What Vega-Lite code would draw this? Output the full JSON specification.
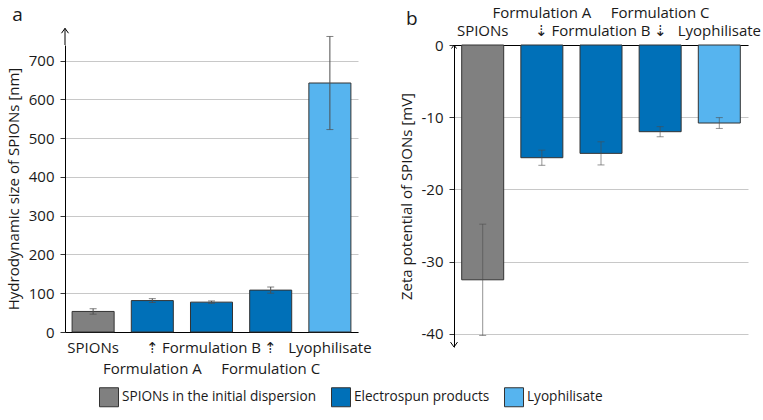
{
  "$schema": "https://vega.github.io/schema/vega-lite/v6.json",
  "background": "white",
  "padding": {"left": 6, "top": 5, "right": 5, "bottom": 5},
  "spacing": 27,
  "datasets": {
    "size": [
      {"cat": "SPIONs", "group": "SPIONs in the initial dispersion", "value": 53, "err": 7},
      {"cat": "Formulation A", "group": "Electrospun products", "value": 81, "err": 5},
      {"cat": "Formulation B", "group": "Electrospun products", "value": 77, "err": 3},
      {"cat": "Formulation C", "group": "Electrospun products", "value": 108, "err": 8},
      {"cat": "Lyophilisate", "group": "Lyophilisate", "value": 642, "err": 120}
    ],
    "zeta": [
      {"cat": "SPIONs", "group": "SPIONs in the initial dispersion", "value": -32.5, "err": 7.7},
      {"cat": "Formulation A", "group": "Electrospun products", "value": -15.6, "err": 1.05},
      {"cat": "Formulation B", "group": "Electrospun products", "value": -15.0, "err": 1.6},
      {"cat": "Formulation C", "group": "Electrospun products", "value": -12.0, "err": 0.7},
      {"cat": "Lyophilisate", "group": "Lyophilisate", "value": -10.8, "err": 0.75}
    ],
    "axisend": [{"axis": "y"}]
  },
  "hconcat": [
    {
      "width": 293,
      "height": 287,
      "title": {"text": "a", "anchor": "start", "frame": "bounds", "fontSize": 19, "fontWeight": "normal", "dx": 6, "offset": 1},
      "layer": [
        {
          "data": {"name": "size"},
          "mark": {"type": "bar", "stroke": "#333333", "strokeWidth": 1},
          "encoding": {
            "x": {"field": "cat", "type": "nominal", "sort": null,
              "scale": {"paddingInner": 0.29, "paddingOuter": 0.12},
              "axis": {"title": null, "ticks": false, "labelAngle": 0, "labelPadding": 8, "labelLineHeight": 21,
                "labelOverlap": false, "labelBaseline": "top", "labelBound": false,
                "labelExpr": "datum.value == 'Formulation A' || datum.value == 'Formulation C' ? ['⇡', datum.value] : datum.value"}},
            "y": {"field": "value", "type": "quantitative",
              "scale": {"domain": [0, 740], "nice": false, "zero": false},
              "axis": {"title": "Hydrodynamic size of SPIONs [nm]", "titlePadding": 7,
                "values": [0, 50, 100, 150, 200, 250, 300, 350, 400, 450, 500, 550, 600, 650, 700, 750],
                "labelExpr": "datum.value % 100 == 0 ? datum.label : ''",
                "grid": true,
                "gridColor": {"condition": {"test": "datum.value % 100 == 0", "value": "#c8c8c8"}, "value": "#ececec"},
                "tickSize": {"condition": {"test": "datum.value % 100 == 0", "value": 5}, "value": 3},
                "labelPadding": 6}},
            "color": {"field": "group", "type": "nominal",
              "scale": {"domain": ["SPIONs in the initial dispersion", "Electrospun products", "Lyophilisate"],
                "range": ["#808080", "#0070b8", "#56b4ef"]},
              "legend": {"orient": "none", "legendX": 34, "legendY": 342, "direction": "horizontal", "title": null, "symbolType": "square",
                "symbolSize": 361, "symbolStrokeColor": "#333333", "symbolStrokeWidth": 1, "symbolOpacity": 1,
                "labelFontSize": 13.6, "labelFont": "Open Sans", "labelColor": "#1a1a1a", "labelLimit": 400, "columnPadding": 12, "labelOffset": 3}}
          }
        },
        {
          "data": {"name": "size"},
          "mark": {"type": "errorbar", "color": "#4d4d4d", "ticks": {"size": 7}},
          "encoding": {
            "x": {"field": "cat", "type": "nominal", "sort": null},
            "y": {"field": "value", "type": "quantitative", "title": "Hydrodynamic size of SPIONs [nm]"},
            "yError": {"field": "err"}
          }
        },
        {
          "data": {"name": "axisend"},
          "mark": {"type": "rule", "color": "#000000", "strokeWidth": 1},
          "encoding": {"x": {"value": 0}, "y": {"datum": 740}, "y2": {"datum": 783}}
        },
        {
          "data": {"name": "axisend"},
          "mark": {"type": "point", "shape": "M -1 1.4 L 0 0 L 1 1.4", "filled": false, "stroke": "#000000", "strokeWidth": 1, "size": 49, "opacity": 1},
          "encoding": {"x": {"value": 0}, "y": {"datum": 783}}
        }
      ]
    },
    {
      "width": 294,
      "height": 302,
      "title": {"text": "b", "anchor": "start", "frame": "bounds", "fontSize": 19, "fontWeight": "normal", "dx": 7, "dy": 24, "offset": 0},
      "layer": [
        {
          "data": {"name": "zeta"},
          "mark": {"type": "bar", "stroke": "#333333", "strokeWidth": 1},
          "encoding": {
            "x": {"field": "cat", "type": "nominal", "sort": null,
              "scale": {"paddingInner": 0.29, "paddingOuter": 0.13},
              "axis": {"orient": "top", "title": null, "ticks": false, "labelAngle": 0, "labelPadding": 40, "labelLineHeight": 18,
                "labelOverlap": false, "labelBaseline": "top", "labelBound": false,
                "labelExpr": "datum.value == 'Formulation A' || datum.value == 'Formulation C' ? [datum.value, '⇣'] : ['', datum.value]"}},
            "y": {"field": "value", "type": "quantitative",
              "scale": {"domain": [-41.8, 0], "nice": false, "zero": false},
              "axis": {"title": "Zeta potential of SPIONs [mV]", "titlePadding": 7,
                "values": [-40, -35, -30, -25, -20, -15, -10, -5, 0],
                "labelExpr": "datum.value % 10 == 0 ? toString(datum.value) : ''",
                "grid": true,
                "gridColor": {"condition": {"test": "datum.value % 10 == 0", "value": "#c8c8c8"}, "value": "#ececec"},
                "tickSize": {"condition": {"test": "datum.value % 10 == 0", "value": 5}, "value": 3},
                "labelPadding": 6}},
            "color": {"field": "group", "type": "nominal"}
          }
        },
        {
          "data": {"name": "zeta"},
          "mark": {"type": "errorbar", "color": "#4d4d4d", "opacity": 0.6, "ticks": {"size": 7}},
          "encoding": {
            "x": {"field": "cat", "type": "nominal", "sort": null},
            "y": {"field": "value", "type": "quantitative", "title": "Zeta potential of SPIONs [mV]"},
            "yError": {"field": "err"}
          }
        },
        {
          "data": {"name": "axisend"},
          "mark": {"type": "point", "shape": "M -1 -1.4 L 0 0 L 1 -1.4", "filled": false, "stroke": "#000000", "strokeWidth": 1, "size": 49, "opacity": 1},
          "encoding": {"x": {"value": 0}, "y": {"datum": -41.8}}
        },
        {
          "data": {"name": "axisend"},
          "mark": {"type": "point", "shape": "M -1 1.4 L 0 0 L 1 1.4", "filled": false, "stroke": "#000000", "strokeWidth": 1, "size": 25, "opacity": 1},
          "encoding": {"x": {"value": 0}, "y": {"datum": 0}}
        }
      ]
    }
  ],
  "config": {
    "font": "Open Sans",
    "view": {"stroke": null},
    "title": {"color": "#1a1a1a", "font": "Open Sans"},
    "axis": {"labelFont": "Open Sans", "titleFont": "Open Sans", "labelFontSize": 15, "titleFontSize": 15,
      "titleFontWeight": "normal", "labelColor": "#1a1a1a", "titleColor": "#1a1a1a",
      "domainColor": "#000000", "tickColor": "#333333", "domainWidth": 1}
  }
}
